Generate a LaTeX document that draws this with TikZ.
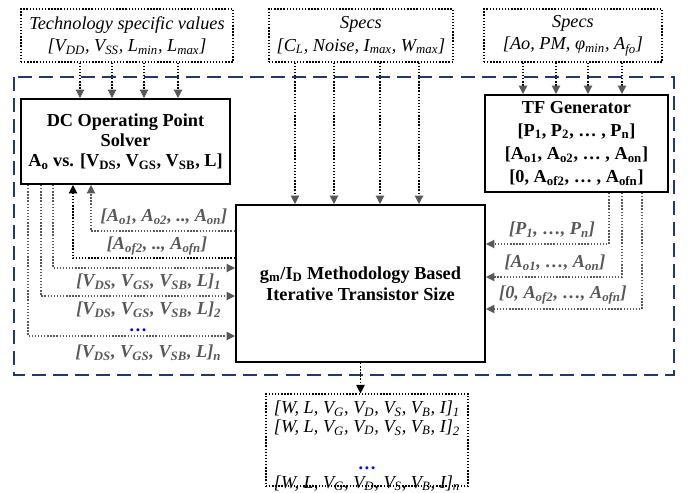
\documentclass[tikz,border=0pt]{standalone}
\usepackage{fontspec}
\setmainfont{Liberation Serif}
\usepackage{xcolor}
\usepackage{tikz}
\usetikzlibrary{arrows.meta}

\definecolor{framecol}{RGB}{31,56,112}
\definecolor{labelgray}{RGB}{88,88,88}
\newcommand{\ssub}[1]{\textsubscript{#1}}

\begin{document}
\begin{tikzpicture}[x=0.025cm, y=-0.025cm,
  font=\fontsize{13}{15}\selectfont,
  specbox/.style={draw, line width=0.8pt, dash pattern=on 1pt off 1.2pt, align=center,
    inner sep=1pt, font=\fontsize{13}{16}\selectfont\itshape},
  blockbox/.style={draw, line width=1.4pt, align=center, inner sep=1pt,
    font=\fontsize{13}{15}\selectfont\bfseries},
  arr/.style={line width=0.8pt, dash pattern=on 1pt off 1.2pt, -{Triangle[length=6pt,width=6pt]}},
  tiparr/.style={arr, -{Triangle[length=6pt,width=6pt,color=labelgray]}},
  grayarr/.style={arr, draw=labelgray},
  glabel/.style={text=labelgray, inner sep=1pt, font=\fontsize{13}{15}\selectfont\bfseries\itshape},
  frame/.style={draw=framecol, line width=1.4pt, dash pattern=on 10pt off 5pt}]

  \useasboundingbox (0,0) rectangle (697,493);

  % outer frame
  \draw[frame] (14,77) rectangle (674,375);

  % input boxes
  \node[specbox, minimum width=5.3cm, minimum height=1.325cm] (tech) at (127,35.5)
    {Technology specific values\\\relax[V\ssub{DD}, V\ssub{SS}, L\ssub{min}, L\ssub{max}]};
  \node[specbox, minimum width=4.6cm, minimum height=1.325cm] (specs) at (361,35.5)
    {Specs\\\relax[C\ssub{L}, Noise, I\ssub{max}, W\ssub{max}]};
  \node[specbox, minimum width=4.45cm, minimum height=1.325cm] (tfspecs) at (573,35.5)
    {Specs\\\relax[Ao, PM, φ\ssub{min}, A\ssub{fo}]};

  % blocks
  \node[blockbox, minimum width=5.225cm, minimum height=2.125cm,
    font=\fontsize{13}{14.3}\selectfont\bfseries] (dc) at (125.5,141.5)
    {DC Operating Point\\Solver\\A\ssub{o} vs. [V\ssub{DS}, V\ssub{GS}, V\ssub{SB}, L]};
  \node[blockbox, minimum width=4.575cm, minimum height=2.425cm,
    font=\fontsize{13}{16.5}\selectfont\bfseries] (tf) at (576.5,143.5)
    {TF Generator\\\relax[P\ssub{1}, P\ssub{2}, … , P\ssub{n}]\\\relax[A\ssub{o1}, A\ssub{o2}, … , A\ssub{on}]\\\relax[0, A\ssub{of2}, … , A\ssub{ofn}]};
  \node[blockbox, minimum width=6.225cm, minimum height=3.925cm] (big) at (360.5,283.5)
    {g\ssub{m}/I\ssub{D} Methodology Based\\Iterative Transistor Size};

  % output box
  \node[specbox, minimum width=5.05cm, minimum height=2.3cm] (out) at (367,440) {};
  \node[align=center, font=\fontsize{13}{13.2}\selectfont\itshape] (outtxt) at (367,446)
    {[W, L, V\ssub{G}, V\ssub{D}, V\ssub{S}, V\ssub{B}, I]\ssub{1}\\\relax
     [W, L, V\ssub{G}, V\ssub{D}, V\ssub{S}, V\ssub{B}, I]\ssub{2}\\[13.2pt]
     \textcolor{blue}{\upshape\bfseries…}\\\relax
     [W, L, V\ssub{G}, V\ssub{D}, V\ssub{S}, V\ssub{B}, I]\ssub{n}};

  % spec inputs
  \foreach \x in {80,112,144,178}
    \draw[tiparr] (tech.south -| \x,0) -- (dc.north -| \x,0);
  \foreach \x in {295,334,380,419}
    \draw[tiparr] (specs.south -| \x,0) -- (big.north -| \x,0);
  \foreach \x in {523,556,588,622}
    \draw[tiparr] (tfspecs.south -| \x,0) -- (tf.north -| \x,0);

  % DC solver <-> sizing block
  \draw[grayarr] (dc.south -| 53,0) |- (big.west |- 0,268);
  \draw[grayarr] (dc.south -| 41,0) |- (big.west |- 0,296);
  \draw[grayarr] (dc.south -| 28,0) |- (big.west |- 0,336);
  \draw[grayarr] (big.west |- 0,231) -| (dc.south -| 91,0);
  \draw[arr] (big.west |- 0,258) -| (dc.south -| 73,0);

  \node[glabel] (lAo) at (164,217) {[A\ssub{o1}, A\ssub{o2}, .., A\ssub{on}]};
  \node[glabel] (lAof) at (157,246) {[A\ssub{of2}, .., A\ssub{ofn}]};
  \node[glabel, anchor=east] (lV1) at (223,282) {[V\ssub{DS}, V\ssub{GS}, V\ssub{SB}, L]\ssub{1}};
  \node[glabel, anchor=east] (lV2) at (223,310) {[V\ssub{DS}, V\ssub{GS}, V\ssub{SB}, L]\ssub{2}};
  \node[glabel, text=blue, font=\fontsize{13}{15}\selectfont\bfseries, inner sep=0pt,
    text height=2pt, text depth=0pt] (lVdots) at (138,330) {…};
  \node[glabel, anchor=east] (lVn) at (223,353) {[V\ssub{DS}, V\ssub{GS}, V\ssub{SB}, L]\ssub{n}};

  % TF generator -> sizing block
  \draw[grayarr] (tf.south -| 609,0) |- (big.east |- 0,244);
  \draw[grayarr] (tf.south -| 622,0) |- (big.east |- 0,277);
  \draw[grayarr] (tf.south -| 642,0) |- (big.east |- 0,309);

  \node[glabel] (lP) at (552,230) {[P\ssub{1}, …, P\ssub{n}]};
  \node[glabel] (lAon) at (555,263) {[A\ssub{o1}, …, A\ssub{on}]};
  \node[glabel] (lAofn) at (563,295) {[0, A\ssub{of2}, …, A\ssub{ofn}]};

  % result
  \draw[arr] (big.south) -- (big.south |- out.north);
\end{tikzpicture}
\end{document}
